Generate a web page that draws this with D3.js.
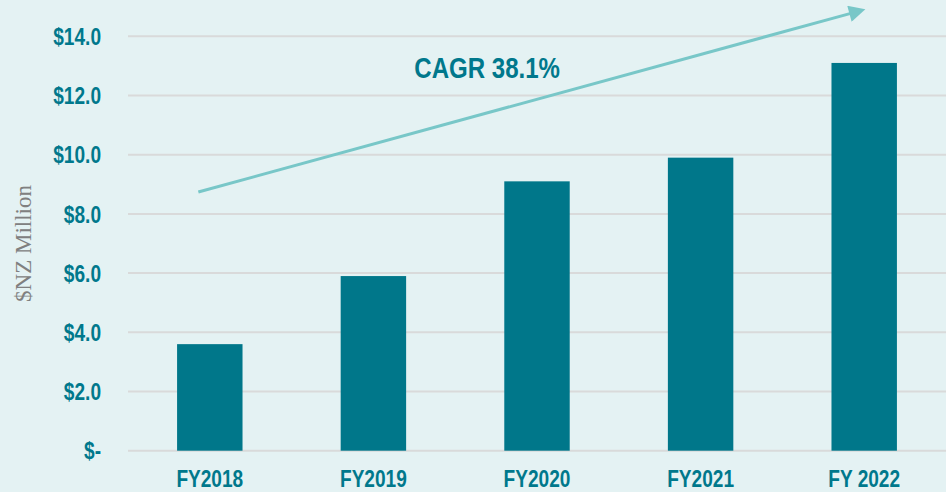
<!DOCTYPE html>
<html>
<head>
<meta charset="utf-8">
<script src="https://cdn.jsdelivr.net/npm/d3@7"></script>
<style>
  html, body { margin: 0; padding: 0; background: #E4F2F3; }
  svg { display: block; }
  .narrow { font-family: "Liberation Sans", Arial, sans-serif; font-weight: bold; }
</style>
</head>
<body>
<svg id="chart" width="946" height="492"></svg>
<script>
const categories = ["FY2018", "FY2019", "FY2020", "FY2021", "FY 2022"];
const values = [3.6, 5.9, 9.1, 9.9, 13.1];
const yTicks = [0, 2, 4, 6, 8, 10, 12, 14];
const yTickLabels = ["$-", "$2.0", "$4.0", "$6.0", "$8.0", "$10.0", "$12.0", "$14.0"];
const yTitle = "$NZ Million";
const cagrLabel = "CAGR 38.1%";
// arrow annotation in data units: [category index, value]
const arrowFrom = [-0.07, 8.74];
const arrowTo = [4.0, 14.9];
const cagrPos = [1.25, 12.58];

const W = 946, H = 492;
const margin = { left: 128, right: 0, top: 36.3, bottom: 41.3 };
const textColor = "#00788C";
const barColor = "#00778A";
const arrowColor = "#78C7C8";
const squeeze = 0.83;

const svg = d3.select("#chart");
svg.append("rect").attr("width", W).attr("height", H).attr("fill", "#E4F2F3");

const x = d3.scaleBand().domain(categories).range([margin.left, W - margin.right])
  .paddingInner(0.6).paddingOuter(0.3);
const y = d3.scaleLinear().domain([0, 14]).range([H - margin.bottom, margin.top]);
const xi = d3.scaleLinear().domain([0, categories.length - 1])
  .range([x(categories[0]) + x.bandwidth() / 2, x(categories[categories.length - 1]) + x.bandwidth() / 2]);

// gridlines
svg.append("g").selectAll("line").data(yTicks).join("line")
  .attr("x1", margin.left).attr("x2", W)
  .attr("y1", d => y(d)).attr("y2", d => y(d))
  .attr("stroke", "#D9DADA").attr("stroke-width", 2);

// y axis labels
const yAxis = d3.axisLeft(y).tickValues(yTicks).tickFormat((d, i) => yTickLabels[i]).tickSize(0).tickPadding(0);
const gy = svg.append("g").attr("transform", "translate(101,0)").call(yAxis);
gy.select(".domain").remove();
gy.selectAll("text").attr("class", "narrow").attr("fill", textColor)
  .style("font-size", "23px").attr("dy", "0.36em")
  .attr("transform", `scale(${squeeze},1)`);

// bars
svg.append("g").selectAll("rect").data(values).join("rect")
  .attr("x", (d, i) => x(categories[i]))
  .attr("width", x.bandwidth())
  .attr("y", d => y(d))
  .attr("height", d => y(0) - y(d))
  .attr("fill", barColor);

// x axis labels
const xAxis = d3.axisBottom(x).tickSize(0).tickPadding(0);
const gx = svg.append("g").attr("transform", `translate(0,${H - margin.bottom})`).call(xAxis);
gx.select(".domain").remove();
gx.selectAll("text").attr("class", "narrow").attr("fill", textColor)
  .style("font-size", "23px").attr("dy", null).attr("y", 36.5)
  .attr("transform", `scale(${squeeze},1)`);

// y title
svg.append("text")
  .attr("transform", `translate(31,${(y(0) + y(14)) / 2}) rotate(-90)`)
  .attr("text-anchor", "middle")
  .attr("font-family", "'Liberation Serif', 'Times New Roman', serif")
  .attr("font-size", 23)
  .attr("fill", "#808080")
  .text(yTitle);

// arrow
const defs = svg.append("defs");
defs.append("marker").attr("id", "ah").attr("viewBox", "0 0 10 10")
  .attr("refX", 2).attr("refY", 5).attr("markerWidth", 6).attr("markerHeight", 5.5)
  .attr("markerUnits", "strokeWidth").attr("orient", "auto")
  .append("path").attr("d", "M0,0 L10,5 L0,10 z").attr("fill", arrowColor);

const x1 = xi(arrowFrom[0]), y1 = y(arrowFrom[1]);
const x2t = xi(arrowTo[0]), y2t = y(arrowTo[1]);
const ang = Math.atan2(y2t - y1, x2t - x1);
const headLen = 17;
svg.append("line")
  .attr("x1", x1).attr("y1", y1)
  .attr("x2", x2t - Math.cos(ang) * (headLen - 5)).attr("y2", y2t - Math.sin(ang) * (headLen - 5))
  .attr("stroke", arrowColor).attr("stroke-width", 3)
  .attr("marker-end", "url(#ah)");

// CAGR label
svg.append("text").attr("class", "narrow")
  .attr("transform", `translate(${xi(cagrPos[0])},${y(cagrPos[1])}) scale(${squeeze},1)`)
  .attr("fill", textColor).style("font-size", "29px")
  .text(cagrLabel);
</script>
</body>
</html>
